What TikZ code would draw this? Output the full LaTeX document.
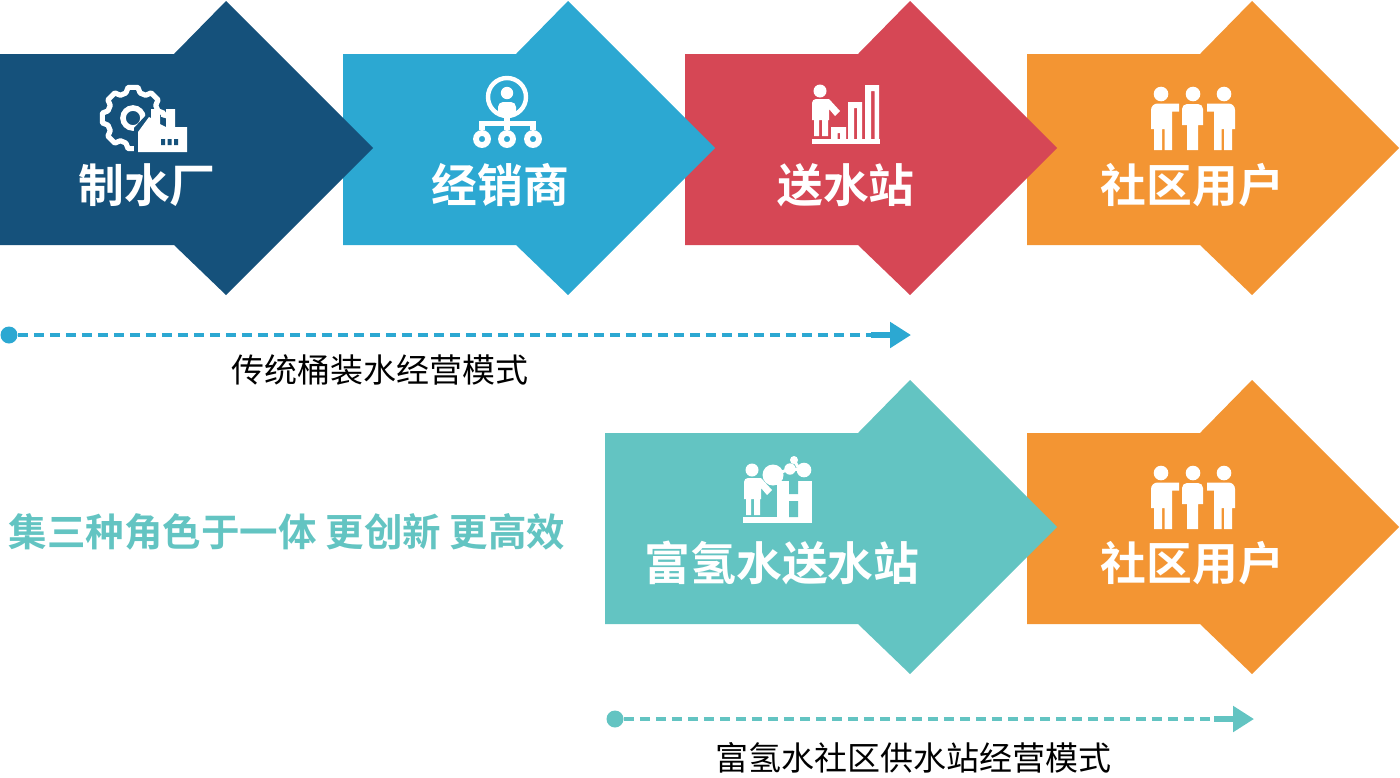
\documentclass[tikz,border=0pt]{standalone}
\usepackage{fontspec}
\newfontfamily\cjk[BoldFont=Noto Sans CJK SC Bold]{Noto Sans CJK SC}
\usetikzlibrary{arrows.meta}

\definecolor{plantblue}{HTML}{15517B}
\definecolor{dealerblue}{HTML}{2CA8D2}
\definecolor{stationred}{HTML}{D64755}
\definecolor{userorange}{HTML}{F39533}
\definecolor{hydroteal}{HTML}{63C4C2}

\tikzset{
    steplabel/.style={white, font=\cjk\bfseries\fontsize{22.9}{27}\selectfont, inner sep=0pt},
    caption/.style={black, font=\cjk\fontsize{16.5}{20}\selectfont, inner sep=0pt},
    startdot/.style={circle, fill=#1, inner sep=0pt, minimum size=8.5pt},
    modeline/.style={#1, line width=1.7pt, dash pattern=on 5pt off 3pt},
    modehead/.style={#1, line width=3pt, -{Triangle[length=10.5pt,width=12.5pt]}},
}

% left edge, x of the head's top corner, y offset, colour
\newcommand{\blockarrow}[4]{
    \fill[#4] (#1,54+#3) -- (#2-52,54+#3) -- (#2,1+#3) -- (#2+147,148+#3)
        -- (#2,295+#3) -- (#2-52,245+#3) -- (#1,245+#3) -- cycle;
}

% one figure with an arm, used on the bars and on the H block
\newcommand{\armfigure}[2]{
    \begin{scope}[shift={(#1,#2)}]
        \fill[white] (820,91) circle (6.5);
        \fill[white] (812,103) arc (180:270:4) -- (829,99) -- (840,111) -- (835,116)
            -- (829,109) -- (829,120) -- (828,120) -- (828,136) -- (822,136) -- (822,120)
            -- (819,120) -- (819,136) -- (814,136) -- (814,120) -- (812,120) -- cycle;
    \end{scope}
}

% three standing figures
\newcommand{\crowd}[2]{
    \begin{scope}[shift={(#1,#2)}]
        \fill[white] (1161,94) circle (7.3) (1193,94) circle (7.3) (1224,94) circle (7.3);
        % left
        \fill[white] (1151,129) -- (1151,110) arc (180:270:6.5) -- (1179,103.5) -- (1179,111.5)
            -- (1172,111.5) -- (1172,150) -- (1164.5,150) -- (1164.5,129)
            -- (1162,129) -- (1162,150) -- (1154,150) -- (1154,129) -- cycle;
        % middle
        \fill[white] (1182,125) -- (1182,109) arc (180:270:5) -- (1198,104) arc (270:360:5)
            -- (1203,125) -- (1198,125) -- (1198,150) -- (1187,150) -- (1187,125) -- cycle;
        % right
        \fill[white] (1235,129) -- (1235,110) arc (0:-90:6.5) -- (1207,103.5) -- (1207,111.5)
            -- (1214,111.5) -- (1214,150) -- (1221.5,150) -- (1221.5,129)
            -- (1224,129) -- (1224,150) -- (1232,150) -- (1232,129) -- cycle;
    \end{scope}
}

\begin{document}
\begin{tikzpicture}[x=0.5pt, y=-0.5pt]

    \useasboundingbox (0,0) rectangle (1400,777);

    % Arrows, right to left so that each tip lies over its neighbour
    \blockarrow{1027}{1252}{0}{userorange}
    \blockarrow{685}{910}{0}{stationred}
    \blockarrow{343}{568}{0}{dealerblue}
    \blockarrow{0}{226}{0}{plantblue}
    \blockarrow{1027}{1252}{379}{userorange}
    \blockarrow{605}{910}{379}{hydroteal}

    % Gear and factory
    \begin{scope}[shift={(133,118)}]
        \draw[white, line width=2.6pt, line join=round] (-16:26)
            \foreach \a in {0,45,...,315} {
                -- (\a-16:26) -- (\a-9:31) -- (\a+9:31) -- (\a+16:26)
            } -- cycle;
        \draw[white, line width=2.8pt] (0,0) circle (10);
    \end{scope}
    \fill[plantblue] (134,155) -- (134,128) -- (148,113) -- (191,126) -- (191,155) -- cycle;
    \fill[white] (138,132) -- (149,117) -- (151,118) -- (151,109) -- (160,109) -- (160,124)
        -- (166,127) -- (166,109) -- (175,109) -- (175,127) -- (187,127) -- (187,152) -- (138,152) -- cycle;
    \fill[plantblue] (161,139) rectangle (165,145) (167.5,139) rectangle (171.5,145) (174,139) rectangle (178,145);

    % Ring with one head and three branches
    \draw[white, line width=2.2pt] (507,97) circle (19);
    \fill[white] (507,93) circle (6.2);
    \fill[white] (498,112) -- (498,107) arc (180:270:5) -- (511,102) arc (270:360:5) -- (516,112) -- (507,116) -- cycle;
    \draw[white, line width=2.6pt] (507,114) -- (507,130);
    \draw[white, line width=2.6pt] (482,130) -- (482,123.5) -- (533,123.5) -- (533,130);
    \foreach \cx in {482,507,533} {
        \draw[white, line width=2.9pt] (\cx,139) circle (6);
    }

    % Figure on rising bars
    \armfigure{0}{0}
    \fill[white] (812,139) rectangle (880,144);
    \fill[white, even odd rule] (831,127) rectangle (846,139) (837.5,133) rectangle (840,139)
        (848,102) rectangle (862,139) (854,108) rectangle (857,139)
        (865,85) rectangle (879,139) (871,91) rectangle (874.5,139);

    % Three figures, upper and lower
    \crowd{0}{0}
    \crowd{0}{379}

    % Figure with H block and bubbles
    \armfigure{-68}{379}
    \fill[white] (743,517) rectangle (812,523);
    \fill[white] (777,481) rectangle (812,523);
    \fill[hydroteal] (789,481) rectangle (798,494) (789,501) rectangle (798,517);
    \fill[white] (773,475) circle (10.5) (790,469) circle (5.7) (794,460) circle (4) (804,470) circle (7.3);
    \draw[white, line width=1.5pt] (773,475) -- (790,469) -- (804,470) (794,460) -- (798,467);

    % Labels in the arrows
    \node[steplabel] (plant) at (147,185) {制水厂};
    \node[steplabel] (dealer) at (500.5,185) {经销商};
    \node[steplabel] (station) at (846,185) {送水站};
    \node[steplabel] (user) at (1192.5,185) {社区用户};
    \node[steplabel] (hydrostation) at (782,563) {富氢水送水站};
    \node[steplabel] (hydrouser) at (1192.5,563) {社区用户};

    % Traditional mode
    \node[startdot=dealerblue] (oldstart) at (9,335) {};
    \coordinate (oldmid) at (871,335);
    \coordinate (oldend) at (911,335);
    \draw[modeline=dealerblue] (oldstart) -- (oldmid);
    \draw[modehead=dealerblue] (oldmid) -- (oldend);
    \node[caption] (oldmode) at (380,370) {传统桶装水经营模式};

    % New mode
    \node[startdot=hydroteal] (newstart) at (615,719) {};
    \coordinate (newmid) at (1214,719);
    \coordinate (newend) at (1254,719);
    \draw[modeline=hydroteal] (newstart) -- (newmid);
    \draw[modehead=hydroteal] (newmid) -- (newend);
    \node[caption] (newmode) at (913,758) {富氢水社区供水站经营模式};

    % Slogan
    \node[inner sep=0pt, text=hydroteal, font=\cjk\bfseries\fontsize{19.25}{23}\selectfont] (slogan) at (287,532)
        {集三种角色于一体 更创新 更高效};

\end{tikzpicture}
\end{document}
